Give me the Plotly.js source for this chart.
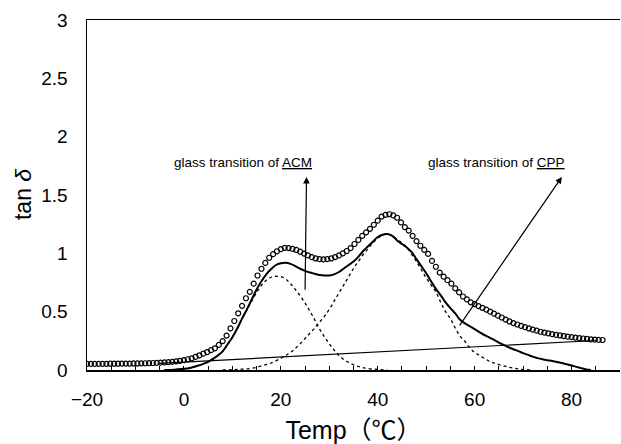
<!DOCTYPE html>
<html>
<head>
<meta charset="utf-8">
<script src="https://cdn.plot.ly/plotly-3.0.1.min.js"></script>
<style>html,body{margin:0;padding:0;background:#fff;}#chart{width:621px;height:444px;}</style>
</head>
<body>
<div id="chart"></div>
<script>
// Measured tan delta (open circles)
const measT = [-20,-19.2,-18.4,-17.6,-16.8,-16,-15.2,-14.4,-13.6,-12.8,-12,-11.2,-10.4,-9.6,-8.8,-8,-7.2,-6.4,-5.6,-4.8,-4,-3.2,-2.4,-1.6,-0.8,0,0.8,1.6,2.4,3.2,4,4.8,5.6,6.4,7.2,8,8.8,9.6,10.4,11.2,12,12.8,13.6,14.4,15.2,16,16.8,17.6,18.4,19.2,20,20.8,21.6,22.4,23.2,24,24.8,25.6,26.4,27.2,28,28.8,29.6,30.4,31.2,32,32.8,33.6,34.4,35.2,36,36.8,37.6,38.4,39.2,40,40.8,41.6,42.4,43.2,44,44.8,45.6,46.4,47.2,48,48.8,49.6,50.4,51.2,52,52.8,53.6,54.4,55.2,56,56.8,57.6,58.4,59.2,60,60.8,61.6,62.4,63.2,64,64.8,65.6,66.4,67.2,68,68.8,69.6,70.4,71.2,72,72.8,73.6,74.4,75.2,76,76.8,77.6,78.4,79.2,80,80.8,81.6,82.4,83.2,84,84.8,85.6,86.4];
const measTan = [0.052,0.052,0.052,0.053,0.053,0.053,0.054,0.054,0.054,0.055,0.055,0.055,0.056,0.056,0.057,0.058,0.059,0.060,0.061,0.063,0.065,0.067,0.070,0.074,0.079,0.085,0.092,0.100,0.112,0.126,0.140,0.154,0.170,0.186,0.215,0.248,0.295,0.357,0.42,0.486,0.55,0.615,0.67,0.74,0.81,0.868,0.918,0.962,0.993,1.018,1.036,1.047,1.045,1.038,1.029,1.014,0.998,0.982,0.967,0.956,0.95,0.948,0.95,0.956,0.968,0.982,1.0,1.02,1.045,1.08,1.115,1.15,1.18,1.21,1.245,1.28,1.315,1.33,1.335,1.325,1.305,1.265,1.225,1.195,1.15,1.105,1.065,1.03,0.995,0.935,0.885,0.835,0.80,0.77,0.74,0.70,0.665,0.63,0.605,0.58,0.565,0.548,0.533,0.518,0.50,0.483,0.466,0.45,0.432,0.416,0.402,0.39,0.378,0.367,0.356,0.346,0.337,0.328,0.321,0.314,0.307,0.301,0.296,0.291,0.286,0.282,0.278,0.274,0.27,0.266,0.262,0.26,0.258,0.257];

// Fitted sum of two peaks (solid)
const sumT = [-4,-2,0,1,2,3,4,5,6,7,8,9,10,11,12,13,14,15,16,17,18,19,20,21,22,23,24,25,26,27,28,29,30,31,32,33,34,35,36,37,38,39,40,41,42,43,44,45,46,47,48,49,50,51,52,53,54,55,56,57,58,59,60,61,62,63,64,65,66,67,68,69,70,71,72,73,74,75,76,77,78,79,80,81,82,83,84];
const sumTan = [0,0.003,0.01,0.015,0.025,0.038,0.053,0.07,0.095,0.125,0.16,0.22,0.28,0.355,0.44,0.52,0.605,0.69,0.76,0.82,0.865,0.9,0.915,0.92,0.91,0.89,0.868,0.85,0.835,0.825,0.815,0.81,0.81,0.82,0.84,0.87,0.9,0.93,0.97,1.02,1.06,1.1,1.14,1.16,1.165,1.15,1.11,1.08,1.05,1.01,0.95,0.89,0.83,0.76,0.695,0.64,0.58,0.53,0.485,0.43,0.4,0.375,0.35,0.325,0.3,0.28,0.258,0.235,0.215,0.195,0.178,0.162,0.145,0.13,0.115,0.102,0.092,0.084,0.077,0.069,0.06,0.05,0.038,0.027,0.016,0.005,0];

// Peak 1: glass transition of ACM (dashed)
const acmT = [-4,-2,0,2,4,6,8,10,11,12,13,14,15,16,17,18,19,20,21,22,23,24,25,26,27,28,29,30,31,32,33,34,35,36,37,38,40,42];
const acmTan = [0,0.003,0.01,0.025,0.053,0.095,0.16,0.28,0.355,0.44,0.515,0.59,0.665,0.725,0.77,0.795,0.803,0.8,0.78,0.74,0.69,0.635,0.575,0.505,0.43,0.35,0.285,0.225,0.17,0.125,0.09,0.065,0.045,0.03,0.02,0.012,0.005,0];

// Peak 2: glass transition of CPP (dashed)
const cppT = [8,10,12,14,16,18,20,21,22,23,24,25,26,27,28,29,30,31,32,33,34,35,36,37,38,39,40,41,42,43,44,45,46,47,48,49,50,51,52,53,54,55,56,57,58,59,60,61,62,63,64,65,66,67,68,69,70,72];
const cppTan = [0,0.003,0.007,0.014,0.035,0.06,0.1,0.125,0.15,0.185,0.225,0.27,0.315,0.36,0.41,0.46,0.52,0.59,0.66,0.73,0.8,0.87,0.93,0.99,1.04,1.09,1.13,1.155,1.165,1.15,1.12,1.09,1.05,0.99,0.93,0.86,0.79,0.73,0.67,0.58,0.5,0.44,0.36,0.29,0.245,0.19,0.15,0.125,0.1,0.075,0.06,0.047,0.036,0.025,0.016,0.009,0.004,0];

// Baseline
const baseT = [-5, 85];
const baseTan = [0.057, 0.253];

// Axis ticks
const xTickVals = [-20, 0, 20, 40, 60, 80];
const xTickText = ["\u221220", "0", "20", "40", "60", "80"];
const yTickVals = [0, 0.5, 1, 1.5, 2, 2.5, 3];
const yTickText = ["0", "0.5", "1", "1.5", "2", "2.5", "3"];

// Annotation arrows [tailT, tailTan, headT, headTan]
const acmArrow = [25, 0.675, 25.3, 1.655];
const cppArrow = [56.7, 0.37, 78.0, 1.655];
const acmLabel = {t: 12.2, tan: 1.775, text: "glass transition of <u>ACM</u>"};
const cppLabel = {t: 64.5, tan: 1.775, text: "glass transition of <u>CPP</u>"};

const fontFam = "Liberation Sans, Arial, Noto Sans CJK JP, sans-serif";

const traces = [
  {x: baseT, y: baseTan, mode: 'lines', line: {color: '#000', width: 1.2}, hoverinfo: 'skip'},
  {x: acmT, y: acmTan, mode: 'lines', line: {color: '#000', width: 1.3, dash: '3px,3px', shape: 'spline'}},
  {x: cppT, y: cppTan, mode: 'lines', line: {color: '#000', width: 1.3, dash: '3px,3px', shape: 'spline'}},
  {x: sumT, y: sumTan, mode: 'lines', line: {color: '#000', width: 2, shape: 'spline'}},
  {x: measT, y: measTan, mode: 'markers', marker: {symbol: 'circle-open', size: 5, color: '#000', line: {width: 1.2, color: '#000'}}}
];

const layout = {
  width: 621, height: 444,
  margin: {l: 87, r: 1, t: 20, b: 74},
  paper_bgcolor: '#fff', plot_bgcolor: '#fff',
  showlegend: false,
  font: {family: fontFam, color: '#000'},
  xaxis: {
    range: [-20, 90], showgrid: false, zeroline: false,
    showline: true, linecolor: '#000', linewidth: 1.5, mirror: true,
    tickmode: 'array', tickvals: xTickVals, ticktext: xTickText,
    ticks: 'inside', ticklen: 4, tickcolor: '#000', tickwidth: 1,
    minor: {dtick: 5, ticks: 'inside', ticklen: 4, tickcolor: '#000', tickwidth: 1, showgrid: false},
    tickfont: {size: 19, family: fontFam},
    ticklabelstandoff: 12,
    title: {text: 'Temp（℃）', font: {size: 25, family: fontFam}, standoff: 14}
  },
  yaxis: {
    range: [0, 3], showgrid: false, zeroline: false,
    showline: true, linecolor: '#000', linewidth: 1.5, mirror: false,
    tickmode: 'array', tickvals: yTickVals, ticktext: yTickText,
    ticks: '', tickfont: {size: 19, family: fontFam},
    ticklabelstandoff: 14
  },
  annotations: [
    {xref: 'paper', yref: 'paper', x: -0.12, y: 0.5, xanchor: 'center', yanchor: 'middle',
     text: 'tan <i>δ</i>', textangle: -90, showarrow: false, font: {size: 23, family: fontFam}},
    {x: acmLabel.t, y: acmLabel.tan, text: acmLabel.text, showarrow: false, font: {size: 13.5, family: fontFam}},
    {x: cppLabel.t, y: cppLabel.tan, text: cppLabel.text, showarrow: false, font: {size: 13.5, family: fontFam}},
    {x: acmArrow[2], y: acmArrow[3], ax: acmArrow[0], ay: acmArrow[1], axref: 'x', ayref: 'y',
     text: '', showarrow: true, arrowhead: 2, arrowsize: 1.1, arrowwidth: 1.2, arrowcolor: '#000'},
    {x: cppArrow[2], y: cppArrow[3], ax: cppArrow[0], ay: cppArrow[1], axref: 'x', ayref: 'y',
     text: '', showarrow: true, arrowhead: 2, arrowsize: 1.1, arrowwidth: 1.2, arrowcolor: '#000'}
  ]
};

Plotly.newPlot('chart', traces, layout, {staticPlot: true, displayModeBar: false});
</script>
</body>
</html>
